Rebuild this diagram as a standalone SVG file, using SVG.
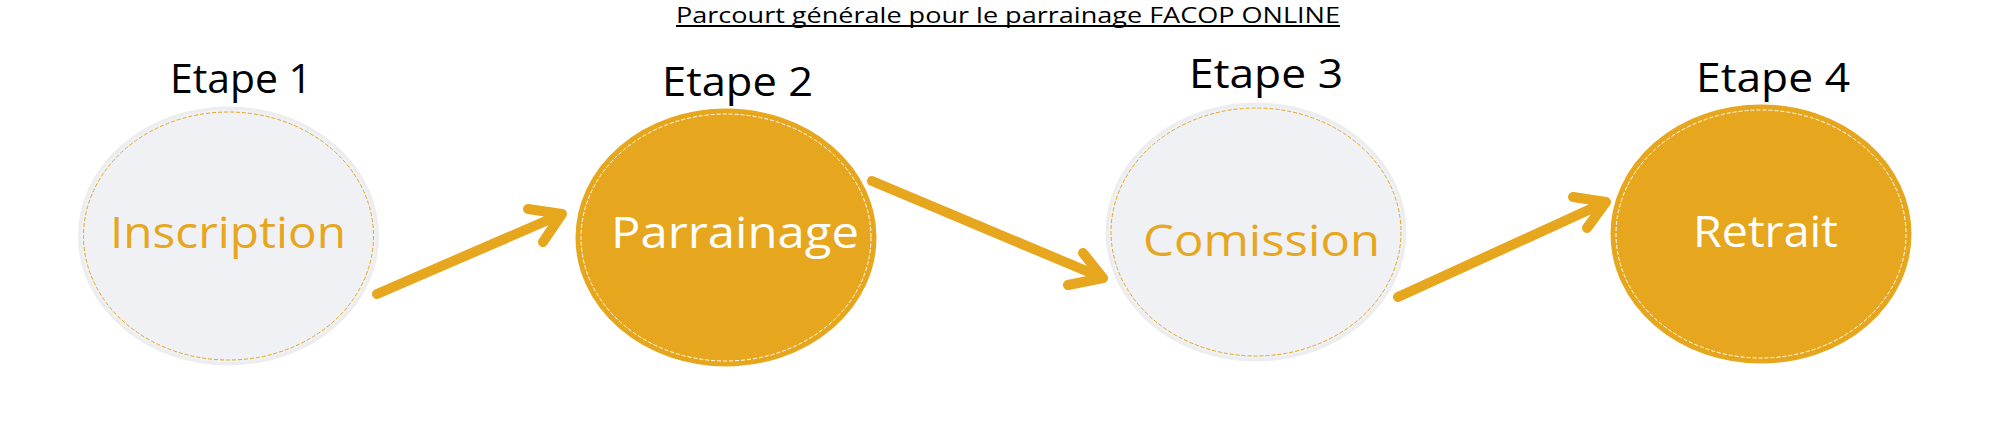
<svg xmlns="http://www.w3.org/2000/svg" width="2000" height="426" viewBox="0 0 2000 426">
<style>
  .bg { fill: #ffffff; }
  .light { fill: #F0F1F4; stroke: #ECEDEF; stroke-width: 3; }
  .lightIn { fill: none; stroke: #E6A61D; stroke-width: 1; stroke-dasharray: 4 2; }
  .gold { fill: #E6A61D; stroke: #E6A61D; stroke-width: 3; }
  .goldIn { fill: none; stroke: #FFFFFF; stroke-width: 1; stroke-dasharray: 4 2; }
  .etape { font-family: "Open Sans", "Liberation Sans", sans-serif; font-size: 40px; fill: #000000; text-anchor: middle; }
  .lblGold { font-family: "Open Sans", "Liberation Sans", sans-serif; font-size: 44px; fill: #E6A61D; text-anchor: middle; }
  .lblWhite { font-family: "Open Sans", "Liberation Sans", sans-serif; font-size: 44px; fill: #FFFFFF; text-anchor: middle; }
  .title { font-family: "Open Sans", "Liberation Sans", sans-serif; font-size: 22px; fill: #000000; text-anchor: middle; }
  .arrow { fill: none; stroke: #E6A61D; stroke-width: 10; stroke-linecap: round; stroke-linejoin: round; }
</style>
<rect class="bg" x="0" y="0" width="2000" height="426"/>
<g id="title">
  <text class="title" x="1008" y="23" textLength="664" lengthAdjust="spacingAndGlyphs">Parcourt générale pour le parrainage FACOP ONLINE</text>
  <rect x="676" y="25" width="664" height="2" fill="#000000"/>
</g>
<g id="step1">
  <text class="etape" x="241" y="93" textLength="142" lengthAdjust="spacingAndGlyphs">Etape 1</text>
  <ellipse class="light" cx="228.5" cy="236" rx="149" ry="128"/>
  <ellipse class="lightIn" cx="228.5" cy="236" rx="145" ry="124"/>
  <text class="lblGold" x="228" y="248" textLength="236" lengthAdjust="spacingAndGlyphs">Inscription</text>
</g>
<g id="step2">
  <text class="etape" x="737.5" y="96" textLength="151" lengthAdjust="spacingAndGlyphs">Etape 2</text>
  <ellipse class="gold" cx="726" cy="237.5" rx="149" ry="127.5"/>
  <ellipse class="goldIn" cx="726" cy="237.5" rx="145" ry="123.5"/>
  <text class="lblWhite" x="735" y="248" textLength="248" lengthAdjust="spacingAndGlyphs">Parrainage</text>
</g>
<g id="step3">
  <text class="etape" x="1266" y="88" textLength="154" lengthAdjust="spacingAndGlyphs">Etape 3</text>
  <ellipse class="light" cx="1256" cy="232" rx="149" ry="128"/>
  <ellipse class="lightIn" cx="1256" cy="232" rx="145" ry="124"/>
  <text class="lblGold" x="1261.5" y="256" textLength="237" lengthAdjust="spacingAndGlyphs">Comission</text>
</g>
<g id="step4">
  <text class="etape" x="1773" y="92" textLength="154" lengthAdjust="spacingAndGlyphs">Etape 4</text>
  <ellipse class="gold" cx="1761" cy="234" rx="149" ry="128"/>
  <ellipse class="goldIn" cx="1761" cy="234" rx="145" ry="124"/>
  <text class="lblWhite" x="1765.5" y="247" textLength="145" lengthAdjust="spacingAndGlyphs">Retrait</text>
</g>
<g id="connectors">
  <path class="arrow" d="M377,294 L562,214 M528,209 L562,214 L543,242"/>
  <path class="arrow" d="M872,181 L1103,278 M1083,253 L1103,278 L1068,285"/>
  <path class="arrow" d="M1398,297 L1606,202 M1573,197 L1606,202 L1587,228"/>
</g>
</svg>
